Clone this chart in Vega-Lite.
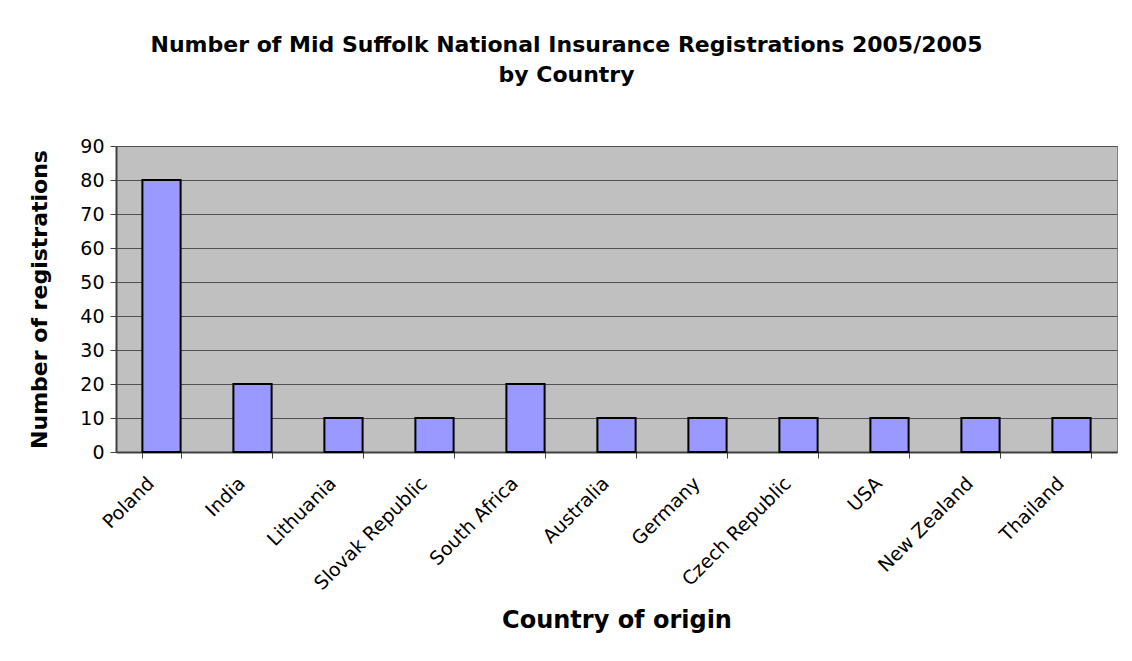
{
  "$schema": "https://vega.github.io/schema/vega-lite/v6.json",
  "width": 1001,
  "height": 306,
  "padding": {"left": 28, "top": 34, "right": 15, "bottom": 10},
  "background": "white",
  "title": {
    "text": ["Number of Mid Suffolk National Insurance Registrations 2005/2005", "by Country"],
    "font": "DejaVu Sans",
    "fontSize": 22,
    "fontWeight": "bold",
    "color": "black",
    "lineHeight": 30,
    "offset": 50,
    "dx": -50,
    "anchor": "middle"
  },
  "data": {
    "values": [
      {"country": "Poland", "registrations": 80},
      {"country": "India", "registrations": 20},
      {"country": "Lithuania", "registrations": 10},
      {"country": "Slovak Republic", "registrations": 10},
      {"country": "South Africa", "registrations": 20},
      {"country": "Australia", "registrations": 10},
      {"country": "Germany", "registrations": 10},
      {"country": "Czech Republic", "registrations": 10},
      {"country": "USA", "registrations": 10},
      {"country": "New Zealand", "registrations": 10},
      {"country": "Thailand", "registrations": 10}
    ]
  },
  "mark": {"type": "bar", "fill": "#9999FF", "stroke": "black", "strokeWidth": 2},
  "encoding": {
    "x": {
      "field": "country",
      "type": "nominal",
      "sort": null,
      "scale": {"paddingInner": 0.58, "paddingOuter": 0.29},
      "axis": {
        "title": "Country of origin",
        "labelAngle": -45,
        "labelAlign": "right",
        "labelBaseline": "middle",
        "labelFont": "DejaVu Sans",
        "labelFontSize": 19,
        "labelColor": "black",
        "labelPadding": 22,
        "labelOffset": -11,
        "tickBand": "extent",
        "tickSize": 6,
        "tickColor": "#404040",
        "domainColor": "#404040",
        "domainWidth": 2,
        "titleFont": "DejaVu Sans",
        "titleFontSize": 24,
        "titleFontWeight": "bold",
        "titleColor": "black",
        "titlePadding": 15
      }
    },
    "y": {
      "field": "registrations",
      "type": "quantitative",
      "scale": {"domain": [0, 90]},
      "axis": {
        "title": "Number of registrations",
        "values": [0, 10, 20, 30, 40, 50, 60, 70, 80, 90],
        "labelFont": "DejaVu Sans",
        "labelFontSize": 19,
        "labelColor": "black",
        "labelPadding": 6,
        "tickSize": 6,
        "tickColor": "#404040",
        "domainColor": "#404040",
        "domainWidth": 2,
        "grid": true,
        "gridColor": "#505050",
        "gridWidth": 1,
        "titleFont": "DejaVu Sans",
        "titleFontSize": 22,
        "titleFontWeight": "bold",
        "titleColor": "black",
        "titlePadding": 28
      }
    }
  },
  "config": {
    "view": {"fill": "#C0C0C0", "stroke": "#808080", "strokeWidth": 1}
  }
}
